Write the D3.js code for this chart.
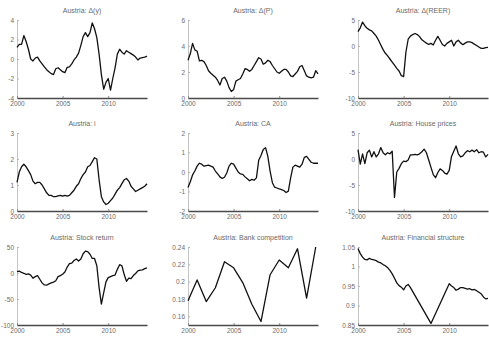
<!DOCTYPE html>
<html>
<head>
<meta charset="utf-8">
<script src="https://cdn.jsdelivr.net/npm/d3@7"></script>
<style>
body { margin: 0; background: #fff; }
svg text { font-family: "Liberation Sans", Arial, sans-serif; fill: #6a6a6a; }
</style>
</head>
<body>
<div id="chart"></div>
<script>
// quarterly dates, 2000Q1 .. 2014Q2
var quarters = [2000, 2000.25, 2000.5, 2000.75, 2001, 2001.25, 2001.5, 2001.75,
    2002, 2002.25, 2002.5, 2002.75, 2003, 2003.25, 2003.5, 2003.75,
    2004, 2004.25, 2004.5, 2004.75, 2005, 2005.25, 2005.5, 2005.75,
    2006, 2006.25, 2006.5, 2006.75, 2007, 2007.25, 2007.5, 2007.75,
    2008, 2008.25, 2008.5, 2008.75, 2009, 2009.25, 2009.5, 2009.75,
    2010, 2010.25, 2010.5, 2010.75, 2011, 2011.25, 2011.5, 2011.75,
    2012, 2012.25, 2012.5, 2012.75, 2013, 2013.25, 2013.5, 2013.75,
    2014, 2014.25];
// annual dates (bank competition)
var years = [2000, 2001, 2002, 2003, 2004, 2005, 2006, 2007, 2008, 2009, 2010, 2011, 2012, 2013, 2014];

var xTicks = [2000, 2005, 2010];

var titles = ["Austria: \u0394(y)", "Austria: \u0394(P)", "Austria: \u0394(REER)",
    "Austria: i", "Austria: CA", "Austria: House prices",
    "Austria: Stock return", "Austria: Bank competition", "Austria: Financial structure"];

var growth = [1.2, 1.5, 1.5, 2.4, 1.8, 1.0, 0.0, -0.2, 0.1, 0.2, -0.2, -0.5, -0.8, -1.1, -1.3, -1.5,
    -1.6, -1.0, -0.9, -1.1, -1.3, -1.4, -0.85, -0.8, -0.5, -0.1, 0.2, 0.6, 1.4, 2.3, 2.7, 2.3,
    2.7, 3.7, 3.1, 2.2, 0.5, -1.6, -3.1, -2.4, -2.0, -3.2, -2.0, -0.9, 0.5, 1.0, 0.7, 0.5,
    0.85, 0.7, 0.55, 0.4, 0.2, -0.1, 0.1, 0.15, 0.2, 0.3];
var inflation = [2.9, 3.4, 4.2, 3.7, 3.6, 2.85, 2.9, 2.8, 2.5, 2.1, 1.9, 1.75, 1.6, 1.35, 1.0, 1.5,
    1.6, 1.3, 0.8, 0.5, 0.65, 1.3, 1.4, 1.5, 1.85, 2.25, 2.2, 2.05, 2.2, 2.5, 2.8, 3.1,
    3.0, 2.6, 2.7, 2.9, 2.8, 2.5, 2.25, 2.0, 1.9, 2.05, 2.2, 2.2, 2.0, 1.7, 1.65, 1.85,
    2.05, 2.4, 2.5, 2.1, 1.7, 1.6, 1.55, 1.6, 2.1, 1.85];
var reer = [2.75, 3.5, 4.6, 3.9, 3.4, 3.1, 2.9, 2.4, 1.9, 1.1, 0.2, -0.7, -1.4, -1.9, -2.5, -3.1,
    -3.7, -4.3, -4.8, -5.7, -5.9, -1.2, 1.3, 1.9, 2.2, 2.4, 2.2, 1.8, 1.2, 0.85, 0.55, 0.3,
    0.5, 0.2, 1.1, 1.85, 1.1, 0.3, 0.0, 0.5, 0.8, 1.1, 0.0, 0.8, 1.1, 0.6, 0.25, 0.55,
    0.8, 0.8, 0.65, 0.35, 0.1, -0.2, -0.45, -0.45, -0.3, -0.25];
var rate = [1.1, 1.5, 1.7, 1.8, 1.7, 1.55, 1.4, 1.15, 1.05, 1.1, 1.1, 1.0, 0.85, 0.7, 0.6, 0.6,
    0.55, 0.55, 0.58, 0.6, 0.57, 0.6, 0.57, 0.6, 0.7, 0.8, 0.95, 1.05, 1.25, 1.4, 1.5, 1.7,
    1.75, 1.9, 2.05, 2.0, 1.2, 0.55, 0.35, 0.25, 0.3, 0.4, 0.5, 0.65, 0.8, 0.9, 1.05, 1.2,
    1.25, 1.15, 0.95, 0.85, 0.75, 0.8, 0.85, 0.9, 0.95, 1.05];
var currentAccount = [-0.8, -0.5, -0.15, 0.05, 0.3, 0.45, 0.4, 0.3, 0.33, 0.35, 0.3, 0.25, 0.05, -0.1, -0.25, -0.33,
    -0.27, -0.05, 0.3, 0.45, 0.4, 0.2, 0.0, -0.1, -0.12, -0.25, -0.35, -0.45, -0.38, -0.42, -0.3, 0.6,
    0.85, 1.15, 1.25, 0.8, 0.05, -0.55, -0.78, -0.82, -0.87, -0.9, -0.95, -1.05, -0.98, -0.3, 0.25, 0.35,
    0.3, 0.25, 0.4, 0.75, 0.8, 0.65, 0.5, 0.45, 0.45, 0.45];
var housePrices = [1.8, -1.0, 1.0, -0.9, 1.2, 1.7, 0.4, 1.4, 0.4, 1.0, 2.2, 1.2, 0.8, 1.2, 1.0, 1.5,
    -7.4, -2.5, -1.8, -0.9, -0.4, -0.5, -0.2, 0.8, 0.8, 0.9, 0.8, 1.0, 1.4, 1.9, 1.2, -0.2,
    -1.6, -3.0, -3.6, -2.6, -1.9, -2.2, -2.7, -2.9, -2.2, 0.5, 1.5, 2.5, 1.0, 0.4, 0.6, 1.2,
    1.6, 1.4, 1.7, 1.4, 1.8, 1.2, 1.4, 1.3, 0.4, 0.9];
var stockReturn = [2.5, 3.5, 1, -0.5, -2.5, -1.5, -4, -10, -7, -5, -12, -19, -23, -23.5, -21, -19,
    -17.5, -15, -7, -5, -2.5, 2, 11.5, 18, 19, 24, 27, 23, 27, 37, 42, 41,
    36, 28, 28, 14, -28, -60, -38, -17, -9, -7, -5, -4, 7, 16, 14, -3,
    -16, -10, -11, -5, -1, 4, 5.5, 6, 8.5, 10];
var bankCompetition = [0.178, 0.202, 0.177, 0.193, 0.223, 0.216, 0.199, 0.174, 0.154, 0.208, 0.225, 0.216, 0.238, 0.181, 0.24];
// null = not observed; the line joins the observed quarters
var finStructure = [1.046, 1.033, 1.024, 1.018, 1.017, 1.021, 1.018, 1.017, 1.015, 1.011, 1.009, 1.005, 1.002, 0.997, 0.99, 0.981,
    0.97, 0.958, 0.951, 0.947, 0.94, 0.95, 0.954, 0.946, null, null, null, null, null, null, null, null,
    0.854, null, null, null, null, null, null, null, 0.956, 0.95, 0.946, 0.939, 0.942, 0.946, 0.946, 0.944,
    0.942, 0.943, 0.94, 0.941, 0.938, 0.934, 0.93, 0.922, 0.917, 0.918];

// y axis ranges and ticks, one per panel
var yDomains = [[-4, 4], [0, 6], [-10, 5], [0, 3], [-2, 2], [-10, 5], [-100, 50], [0.15, 0.24], [0.85, 1.05]];
var yTicks = [[-4, -2, 0, 2, 4], [0, 2, 4, 6], [-10, -5, 0, 5], [0, 1, 2, 3], [-2, -1, 0, 1, 2],
    [-10, -5, 0, 5], [-100, -50, 0, 50], [0.16, 0.18, 0.2, 0.22, 0.24], [0.85, 0.9, 0.95, 1, 1.05]];

var seriesList = [growth, inflation, reer, rate, currentAccount, housePrices, stockReturn, bankCompetition, finStructure];
var datesList = [quarters, quarters, quarters, quarters, quarters, quarters, quarters, years, quarters];

function genPanels() {
    var width = 489,
        height = 341,
        colLeft = [17, 188, 358],
        rowTop = [20, 133, 247],
        plotW = 130,
        plotH = 78;

    var svg = d3.select("#chart")
        .append("svg")
        .attr("width", width)
        .attr("height", height);

    var fmt = function (d) { return String(+d.toFixed(2)); };

    seriesList.forEach(function (vals, k) {
        var left = colLeft[k % 3],
            top = rowTop[Math.floor(k / 3)];

        var x = d3.scaleLinear()
            .domain([2000, 2014.25])
            .range([left, left + plotW]);
        var y = d3.scaleLinear()
            .domain(yDomains[k])
            .range([top + plotH, top]);

        var g = svg.append("g");

        // title
        g.append("text")
            .attr("x", left + plotW / 2)
            .attr("y", top - 7)
            .attr("text-anchor", "middle")
            .attr("font-size", 7)
            .text(titles[k]);

        // y axis - thin grey, inward ticks
        var yAx = g.append("g")
            .attr("transform", "translate(" + left + ",0)")
            .call(d3.axisLeft(y).tickValues(yTicks[k]).tickSize(-2).tickSizeOuter(0).tickPadding(3).tickFormat(fmt));
        yAx.select(".domain").attr("stroke", "#b5b5b5").attr("stroke-width", 0.8);
        yAx.selectAll(".tick line").attr("stroke", "#b5b5b5");
        yAx.selectAll("text").attr("font-size", 6.5).attr("fill", "#6a6a6a");

        // x axis - darker baseline
        var xAx = g.append("g")
            .attr("transform", "translate(0," + (top + plotH) + ")")
            .call(d3.axisBottom(x).tickValues(xTicks).tickSize(-2).tickSizeOuter(0).tickPadding(3).tickFormat(d3.format("d")));
        xAx.select(".domain").attr("stroke", "#4a4a4a").attr("stroke-width", 1.6);
        xAx.selectAll(".tick line").attr("stroke", "#888");
        xAx.selectAll("text").attr("font-size", 6.5).attr("fill", "#6a6a6a");

        // data line
        var dates = datesList[k];
        var pts = vals.map(function (v, i) { return [dates[i], v]; })
            .filter(function (d) { return d[1] != null; });

        g.append("path")
            .datum(pts)
            .attr("fill", "none")
            .attr("stroke", "#111")
            .attr("stroke-width", 1.3)
            .attr("stroke-linejoin", "round")
            .attr("d", d3.line()
                .x(function (d) { return x(d[0]); })
                .y(function (d) { return y(d[1]); }));
    });
}

genPanels();
</script>
</body>
</html>
